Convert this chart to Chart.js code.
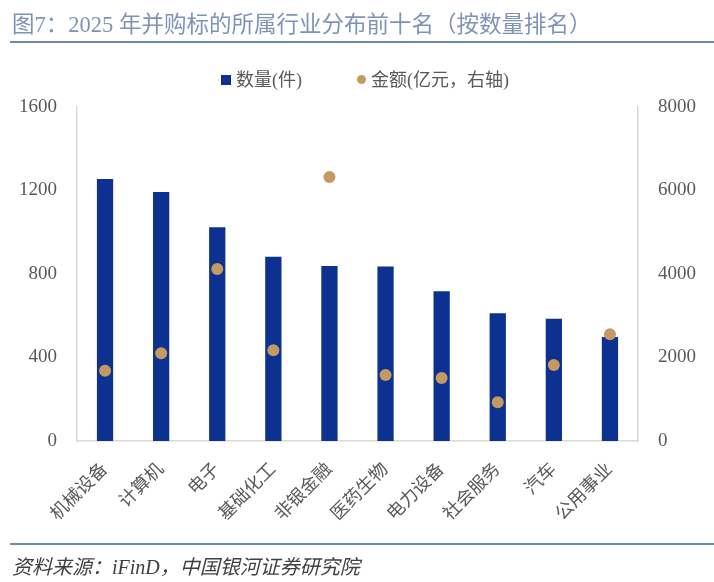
<!DOCTYPE html>
<html>
<head>
<meta charset="utf-8">
<script src="https://cdn.jsdelivr.net/npm/chart.js@4/dist/chart.umd.min.js"></script>
<style>
  html, body { margin: 0; padding: 0; background: #fff; }
  body { width: 714px; height: 582px; position: relative; overflow: hidden; font-family: "Liberation Serif", "Noto Sans CJK SC", serif; }
  #title { position: absolute; left: 12px; top: 6px; font-size: 22.5px; color: #7f93b8; white-space: nowrap; }
  #tline { position: absolute; left: 10px; right: 0; top: 41px; height: 2px; background: #7088a8; }
  #legend { position: absolute; top: 69px; left: 0; height: 22px; font-size: 18px; color: #595959; white-space: nowrap; }
  .li { position: absolute; top: 0; line-height: 22px; }
  .sq { position: absolute; width: 10px; height: 10px; background: #0c3190; }
  .dot { position: absolute; width: 9px; height: 9px; border-radius: 50%; background: #c49a62; }
  #fline { position: absolute; left: 10px; right: 0; top: 543px; height: 2px; background: #7088a8; }
  #footer { position: absolute; left: 12px; top: 551px; font-size: 20px; font-style: italic; color: #404040; white-space: nowrap; }
  #wrap { position: absolute; left: 0; top: 0; width: 714px; height: 582px; }
</style>
</head>
<body>
<div id="wrap"><canvas id="c"></canvas></div>
<div id="title">图7：2025 年并购标的所属行业分布前十名（按数量排名）</div>
<div id="tline"></div>
<div id="legend"></div>
<div id="fline"></div>
<div id="footer">资料来源：iFinD，中国银河证券研究院</div>
<script>
const categories = ["机械设备", "计算机", "电子", "基础化工", "非银金融", "医药生物", "电力设备", "社会服务", "汽车", "公用事业"];
const countValues = [1255, 1193, 1024, 883, 838, 836, 717, 612, 586, 498];
const amountValues = [1684, 2100, 4120, 2172, 6323, 1581, 1509, 927, 1820, 2556];
const seriesNames = ["数量(件)", "金额(亿元，右轴)"];
const leftTicks = [0, 400, 800, 1200, 1600];
const rightTicks = [0, 2000, 4000, 6000, 8000];

const BAR = "#0c3190", DOT = "#c49a62", TICK = "#595959", AXIS = "#d9d9d9";

// legend (HTML, real text)
const lg = document.getElementById("legend");
lg.innerHTML =
  '<div class="sq" style="left:221px;top:6px"></div><div class="li" style="left:236px">' + seriesNames[0] + '</div>' +
  '<div class="dot" style="left:357px;top:6px"></div><div class="li" style="left:371px">' + seriesNames[1] + '</div>';

const tickFont = { family: "'Liberation Serif', 'Noto Sans CJK SC', serif", size: 19 };

new Chart(document.getElementById("c"), {
  data: {
    labels: categories,
    datasets: [
      { type: "line", label: seriesNames[1], data: amountValues, yAxisID: "y1",
        showLine: false, pointRadius: 6, pointHoverRadius: 6, pointBackgroundColor: DOT,
        pointBorderColor: DOT, pointBorderWidth: 0, backgroundColor: DOT, order: 0 },
      { type: "bar", label: seriesNames[0], data: countValues, yAxisID: "y",
        backgroundColor: BAR, borderWidth: 0, barPercentage: 0.29, categoryPercentage: 1.0, order: 1 }
    ]
  },
  options: {
    responsive: true,
    maintainAspectRatio: false,
    animation: false,
    layout: { padding: { top: 107, left: 0, right: 0, bottom: 0 } },
    plugins: { legend: { display: false }, tooltip: { enabled: false }, title: { display: false } },
    scales: {
      x: {
        offset: true,
        grid: { display: false, drawTicks: false },
        border: { color: AXIS, width: 1.5 },
        ticks: { color: TICK, font: { family: "'Liberation Serif', 'Noto Sans CJK SC', serif", size: 18 },
                 minRotation: 45, maxRotation: 45, autoSkip: false, padding: 18 },
        afterFit: s => { s.height = 141; }
      },
      y: {
        position: "left", min: 0, max: 1600,
        afterBuildTicks: s => { s.ticks = leftTicks.map(v => ({ value: v })); },
        grid: { display: false, drawTicks: false },
        border: { color: AXIS, width: 1.5 },
        ticks: { color: TICK, font: tickFont, padding: 20, callback: v => String(v) },
        afterFit: s => { s.width = 77; }
      },
      y1: {
        position: "right", min: 0, max: 8000,
        afterBuildTicks: s => { s.ticks = rightTicks.map(v => ({ value: v })); },
        grid: { display: false, drawTicks: false },
        border: { color: AXIS, width: 1.5 },
        ticks: { color: TICK, font: tickFont, padding: 20, callback: v => String(v) },
        afterFit: s => { s.width = 76; }
      }
    }
  }
});
</script>
</body>
</html>
